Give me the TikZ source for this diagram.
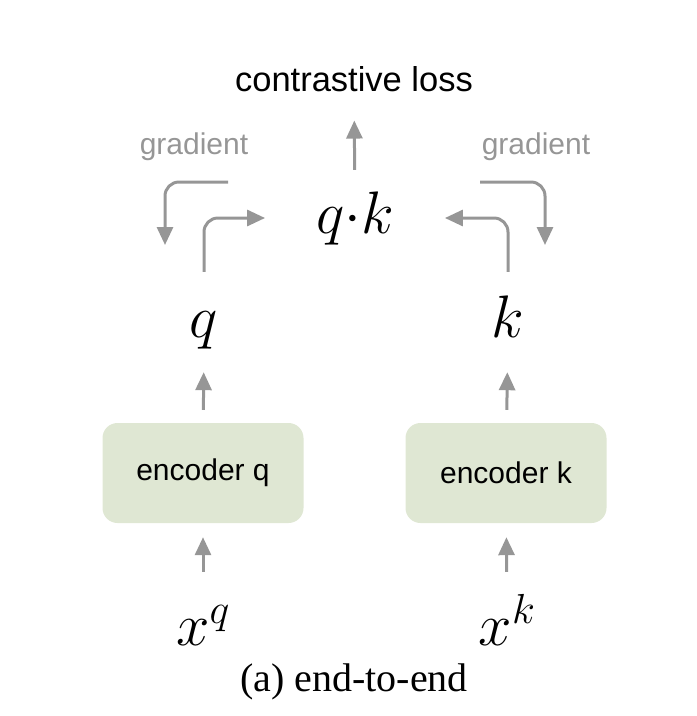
\documentclass[tikz,border=0pt]{standalone}
\usepackage{fix-cm}
\usepackage{fontspec}
\setmainfont{Liberation Serif}
\setsansfont{Liberation Sans}
\usetikzlibrary{arrows.meta,positioning}
\definecolor{arrgray}{RGB}{150,150,150}
\definecolor{encgreen}{RGB}{223,231,211}
\begin{document}
\begin{tikzpicture}[x=1pt, y=-1pt,
  lbl/.style={font=\sffamily\fontsize{30}{34}\selectfont, inner sep=0pt},
  sym/.style={font=\fontsize{60}{64}\selectfont, inner sep=0pt, anchor=base,
              text height=42pt, text depth=12pt},
  enc/.style={rectangle, rounded corners=15pt, fill=encgreen, minimum width=201pt,
              minimum height=100pt, font=\sffamily\fontsize{30}{34}\selectfont},
  grad/.style={lbl, text=arrgray},
  arr/.style={draw=arrgray, line width=3pt, -{Triangle[length=18pt,width=16pt]}}]
  \useasboundingbox (0,0) rectangle (697,716);
  \node[lbl, anchor=base, font=\sffamily\fontsize{34.5}{38}\selectfont] (loss) at (354,91) {contrastive loss};
  \node[sym] (qk) at (355,233) {$q{\cdot}k$};
  \node[sym] (q) at (204,337) {$q$};
  \node[sym] (k) at (508,337) {$k$};
  \node[enc] (encq) at (203,473) {encoder q};
  \node[enc] (enck) at (506,473) {encoder k};
  \node[sym] (xq) at (203,645) {$x^q$};
  \node[sym] (xk) at (507,645) {$x^k$};
  \node[font=\fontsize{40}{44}\selectfont, inner sep=0pt, anchor=base] (cap) at (354,691) {(a) end-to-end};
  \node[grad] (gradl) at (194,147) {gradient};
  \node[grad] (gradr) at (536,147) {gradient};
  \coordinate (gls) at (228,182);
  \coordinate (gle) at (165,245);
  \coordinate (grs) at (480,182);
  \coordinate (gre) at (545,245);
  \draw[arr, shorten <=31pt, shorten >=14pt] (xq) -- (encq);
  \draw[arr, shorten <=31pt, shorten >=14pt] (xk) -- (enck);
  \draw[arr, shorten <=13pt, shorten >=23pt] (encq) -- (q);
  \draw[arr, shorten <=13pt, shorten >=23pt] (enck) -- (k);
  \draw[arr, rounded corners=14pt, shorten <=23pt, shorten >=51pt] (q) |- (qk);
  \draw[arr, rounded corners=14pt, shorten <=23pt, shorten >=51pt] (k) |- (qk);
  \draw[arr, shorten <=21pt, shorten >=29pt] (qk) -- (loss);
  \draw[arr, rounded corners=14pt] (gls) -| (gle);
  \draw[arr, rounded corners=14pt] (grs) -| (gre);
\end{tikzpicture}
\end{document}
